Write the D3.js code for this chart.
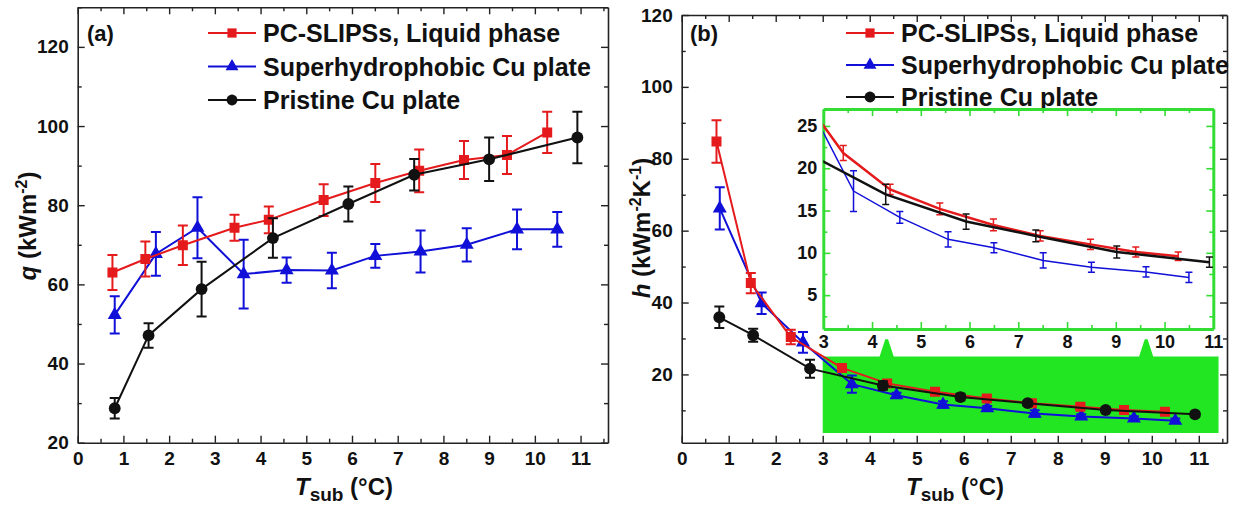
<!DOCTYPE html>
<html><head><meta charset="utf-8">
<script src="https://cdn.jsdelivr.net/npm/d3@7"></script>
<style>
body{margin:0;background:#fff;}
svg text{font-family:"Liberation Sans",Arial,sans-serif;font-weight:bold;fill:#111;}
</style></head><body>
<svg id="c" width="1239" height="506"></svg>
<script>
// ---------- data ----------
const seriesNames = ["PC-SLIPSs, Liquid phase", "Superhydrophobic Cu plate", "Pristine Cu plate"];
const seriesColors = ["#e41a1c", "#1010d8", "#111111"];
const seriesSymbols = ["square", "triangle", "circle"];

// panel (a): q (kW m^-2)
const aRedT   = [0.76, 1.48, 2.30, 3.43, 4.18, 5.38, 6.51, 7.47, 8.45, 9.39, 10.27];
const aRedQ   = [63.0, 66.4, 69.9, 74.3, 76.3, 81.3, 85.6, 88.7, 91.4, 92.7, 98.4];
const aRedE   = [4.4, 4.4, 5.0, 3.3, 3.4, 4.0, 4.8, 5.4, 4.8, 4.8, 5.2];
const aBlueT  = [0.81, 1.71, 2.62, 3.63, 4.57, 5.56, 6.51, 7.50, 8.51, 9.61, 10.49];
const aBlueQ  = [52.3, 67.7, 74.3, 62.6, 63.6, 63.5, 67.2, 68.3, 70.0, 73.9, 73.9];
const aBlueE  = [4.7, 5.5, 7.7, 8.7, 3.2, 4.5, 3.0, 5.3, 4.2, 5.0, 4.4];
const aBlackT = [0.81, 1.55, 2.71, 4.27, 5.92, 7.36, 9.00, 10.93];
const aBlackQ = [28.7, 47.1, 58.8, 71.7, 80.3, 87.7, 91.6, 97.1];
const aBlackE = [2.6, 3.1, 6.9, 5.0, 4.4, 4.0, 5.5, 6.5];

// panel (b): h (kW m^-2 K^-1)
const bRedT   = [0.74, 1.47, 2.32, 3.41, 4.37, 5.39, 6.49, 7.45, 8.48, 9.41, 10.28];
const bRedH   = [84.8, 45.4, 30.4, 21.8, 17.5, 15.2, 13.3, 12.0, 11.0, 10.1, 9.6];
const bRedE   = [5.9, 2.8, 2.0, 0.9, 0.6, 0.7, 0.7, 0.6, 0.6, 0.6, 0.5];
const bBlueT  = [0.81, 1.70, 2.58, 3.62, 4.57, 5.56, 6.50, 7.51, 8.50, 9.62, 10.50];
const bBlueH  = [66.2, 39.8, 28.9, 17.3, 14.2, 11.6, 10.6, 9.1, 8.3, 7.75, 7.1];
const bBlueE  = [5.9, 3.0, 2.9, 2.4, 0.7, 0.9, 0.6, 0.9, 0.6, 0.6, 0.6];
const bBlackT = [0.80, 1.52, 2.73, 4.28, 5.93, 7.36, 9.02, 10.92];
const bBlackH = [35.9, 30.9, 21.6, 16.9, 13.7, 12.0, 10.1, 8.9];
const bBlackE = [3.0, 1.8, 2.5, 1.2, 0.9, 0.7, 0.7, 0.6];

// axis ticks
const xTicks = [0,1,2,3,4,5,6,7,8,9,10,11];
const aYTicks = [20,40,60,80,100,120];
const bYTicks = [20,40,60,80,100,120];
const insetXTicks = [3,4,5,6,7,8,9,10,11];
const insetYTicks = [5,10,15,20,25];

// ---------- helpers ----------
const svg = d3.select("#c");
const zip = (T,V,E) => T.map((t,i)=>({t, v:V[i], e:E[i]}));
const FONT_TICK = 19;

function drawAxes(g, x, y, o) {
  const [x0,x1] = x.range(), [y0,y1] = y.range();
  const col = o.color || "#222";
  const mk = (axis, tr, vals, size, labels) => {
    const a = g.append("g").attr("transform", tr)
      .call(axis.tickValues(vals).tickSizeInner(size).tickSizeOuter(0).tickPadding(o.pad || 9)
        .tickFormat(labels ? d3.format("d") : ""));
    a.select(".domain").attr("stroke", col).attr("stroke-width", o.sw || 1.6);
    a.selectAll(".tick line").attr("stroke", col).attr("stroke-width", o.tw || 1.4);
    a.selectAll("text").attr("font-size", o.fs || FONT_TICK).attr("fill", "#111");
    return a;
  };
  const xmin = o.xMinor, ymin = o.yMinor;
  mk(d3.axisBottom(x), `translate(0,${y0})`, o.xt, -7, true);
  mk(d3.axisBottom(x), `translate(0,${y0})`, xmin, -4, false).select(".domain").remove();
  mk(d3.axisTop(x), `translate(0,${y1})`, o.xt, -7, false);
  mk(d3.axisTop(x), `translate(0,${y1})`, xmin, -4, false).select(".domain").remove();
  mk(d3.axisLeft(y), `translate(${x0},0)`, o.yt, -7, true);
  mk(d3.axisLeft(y), `translate(${x0},0)`, ymin, -4, false).select(".domain").remove();
  mk(d3.axisRight(y), `translate(${x1},0)`, o.yt, -7, false);
  mk(d3.axisRight(y), `translate(${x1},0)`, ymin, -4, false).select(".domain").remove();
}

function symSize(type) { return type === "triangle" ? 85 : type === "square" ? 100 : 110; }
function symbolPath(type, size) {
  const t = type === "square" ? d3.symbolSquare : type === "triangle" ? d3.symbolTriangle : d3.symbolCircle;
  return d3.symbol().type(t).size(size)();
}

function drawSeries(g, x, y, data, color, sym, o) {
  const line = d3.line().x(d=>x(d.t)).y(d=>y(d.v));
  g.append("path").datum(data).attr("d", line).attr("fill","none")
    .attr("stroke", color).attr("stroke-width", o.lw || 2);
  const cap = o.cap || 5;
  const eb = g.append("g").attr("stroke", color).attr("stroke-width", o.ew || 2);
  data.forEach(d => {
    const cx = x(d.t), yt = y(d.v + d.e), yb = y(d.v - d.e);
    eb.append("line").attr("x1",cx).attr("x2",cx).attr("y1",yt).attr("y2",yb);
    eb.append("line").attr("x1",cx-cap).attr("x2",cx+cap).attr("y1",yt).attr("y2",yt);
    eb.append("line").attr("x1",cx-cap).attr("x2",cx+cap).attr("y1",yb).attr("y2",yb);
  });
  if (o.markers !== false) {
    g.selectAll(null).data(data).enter().append("path")
      .attr("d", symbolPath(sym, symSize(sym)))
      .attr("transform", d=>`translate(${x(d.t)},${y(d.v)})`)
      .attr("fill", color);
  }
}

function legend(g, lx, ly, dy) {
  seriesNames.forEach((n,i) => {
    const yy = ly + i*dy;
    g.append("line").attr("x1", lx).attr("x2", lx+48).attr("y1", yy).attr("y2", yy)
      .attr("stroke", seriesColors[i]).attr("stroke-width", 2);
    g.append("path").attr("d", symbolPath(seriesSymbols[i], symSize(seriesSymbols[i]) * 0.85))
      .attr("transform", `translate(${lx+24},${yy})`).attr("fill", seriesColors[i]);
    g.append("text").attr("x", lx+55).attr("y", yy).attr("dy","0.36em")
      .attr("font-size", 25).text(n);
  });
}

function xLabel(cx, cy) {
  const t = svg.append("text").attr("x", cx).attr("y", cy).attr("text-anchor","middle").attr("font-size", 24);
  t.append("tspan").attr("font-style","italic").text("T");
  t.append("tspan").attr("font-size", 19).attr("dy", 6).text("sub");
  t.append("tspan").attr("dy", -6).text(" (°C)");
}

function clipRect(id, x, y) {
  const [x0,x1] = x.range(), [y0,y1] = y.range();
  svg.append("clipPath").attr("id", id).append("rect")
    .attr("x", x0).attr("y", y1).attr("width", x1-x0).attr("height", y0-y1);
  return `url(#${id})`;
}

// ---------- panel (a) ----------
const xa = d3.scaleLinear().domain([0, 11.6]).range([77.7, 608]);
const ya = d3.scaleLinear().domain([20, 130]).range([442.7, 7.3]);
const ga = svg.append("g");
drawAxes(ga, xa, ya, {xt: xTicks, yt: aYTicks,
  xMinor: d3.range(0.5, 11.6, 1), yMinor: d3.range(30, 131, 20)});
const gaD = ga.append("g").attr("clip-path", clipRect("ca", xa, ya));
drawSeries(gaD, xa, ya, zip(aBlueT, aBlueQ, aBlueE), seriesColors[1], "triangle", {cap:5});
drawSeries(gaD, xa, ya, zip(aRedT, aRedQ, aRedE), seriesColors[0], "square", {cap:5});
drawSeries(gaD, xa, ya, zip(aBlackT, aBlackQ, aBlackE), seriesColors[2], "circle", {cap:5});
legend(ga, 208, 33, 33.5);
ga.append("text").attr("x", 87).attr("y", 33).attr("dy","0.36em").attr("font-size", 22).text("(a)");
{
  const t = svg.append("text").attr("transform","translate(36,226) rotate(-90)")
    .attr("text-anchor","middle").attr("font-size", 24);
  t.append("tspan").attr("font-style","italic").text("q");
  t.append("tspan").text(" (kWm");
  t.append("tspan").attr("font-size", 16).attr("dy", -9).text("-2");
  t.append("tspan").attr("dy", 9).text(")");
}
xLabel(344, 495);

// ---------- panel (b) ----------
const xb = d3.scaleLinear().domain([0, 11.6]).range([681.7, 1227]);
const yb = d3.scaleLinear().domain([1, 120]).range([442.7, 15]);
const gb = svg.append("g");

// green zoom callout (in data units of panel b)
const calloutX = [3.0, 11.42];
const calloutY = [3.7, 25.0];
const spikeT = [4.36, 9.88];
const spikeTop = 29.8;
{
  const pts = [];
  pts.push([calloutX[0], calloutY[1]]);
  spikeT.forEach(s => { pts.push([s-0.15, calloutY[1]]); pts.push([s-0.03, spikeTop]); pts.push([s+0.03, spikeTop]); pts.push([s+0.15, calloutY[1]]); });
  pts.push([calloutX[1], calloutY[1]]);
  pts.push([calloutX[1], calloutY[0]]);
  pts.push([calloutX[0], calloutY[0]]);
  gb.append("path").attr("d", d3.line().x(p=>xb(p[0])).y(p=>yb(p[1]))(pts) + "Z")
    .attr("fill", "#22e622");
}
drawAxes(gb, xb, yb, {xt: xTicks, yt: bYTicks,
  xMinor: d3.range(0.5, 11.6, 1), yMinor: d3.range(10, 121, 20)});
const gbD = gb.append("g").attr("clip-path", clipRect("cb", xb, yb));
drawSeries(gbD, xb, yb, zip(bBlueT, bBlueH, bBlueE), seriesColors[1], "triangle", {cap:5});
drawSeries(gbD, xb, yb, zip(bRedT, bRedH, bRedE), seriesColors[0], "square", {cap:5});
drawSeries(gbD, xb, yb, zip(bBlackT, bBlackH, bBlackE), seriesColors[2], "circle", {cap:5});
legend(gb, 846, 33, 32);
gb.append("text").attr("x", 690).attr("y", 33).attr("dy","0.36em").attr("font-size", 22).text("(b)");
{
  const t = svg.append("text").attr("transform","translate(650,228) rotate(-90)")
    .attr("text-anchor","middle").attr("font-size", 24);
  t.append("tspan").attr("font-style","italic").text("h");
  t.append("tspan").text(" (kWm");
  t.append("tspan").attr("font-size", 16).attr("dy", -9).text("-2");
  t.append("tspan").attr("dy", 9).text("K");
  t.append("tspan").attr("font-size", 16).attr("dy", -9).text("-1");
  t.append("tspan").attr("dy", 9).text(")");
}
xLabel(955, 495);

// ---------- inset ----------
const xi = d3.scaleLinear().domain([3, 11]).range([823.3, 1213.3]);
const yi = d3.scaleLinear().domain([1, 27]).range([329, 109]);
const gi = svg.append("g");
gi.append("rect").attr("x", xi.range()[0]).attr("y", yi.range()[1])
  .attr("width", xi.range()[1]-xi.range()[0]).attr("height", yi.range()[0]-yi.range()[1]).attr("fill","#fff");
drawAxes(gi, xi, yi, {xt: insetXTicks, yt: insetYTicks, color:"#33dd33", sw:3, tw:1.6, pad:6, fs:18,
  xMinor: d3.range(3.5, 11, 1), yMinor: d3.range(2.5, 27, 5)});
const giD = gi.append("g").attr("clip-path", clipRect("ci", xi, yi));
drawSeries(giD, xi, yi, zip(bBlueT, bBlueH, bBlueE), seriesColors[1], "triangle", {cap:3.5, lw:1.5, ew:1.5, markers:false});
drawSeries(giD, xi, yi, zip(bRedT, bRedH, bRedE), seriesColors[0], "square", {cap:3.5, lw:2.5, ew:1.5, markers:false});
drawSeries(giD, xi, yi, zip(bBlackT, bBlackH, bBlackE), seriesColors[2], "circle", {cap:3.5, lw:2.5, ew:1.5, markers:false});
</script></body></html>
